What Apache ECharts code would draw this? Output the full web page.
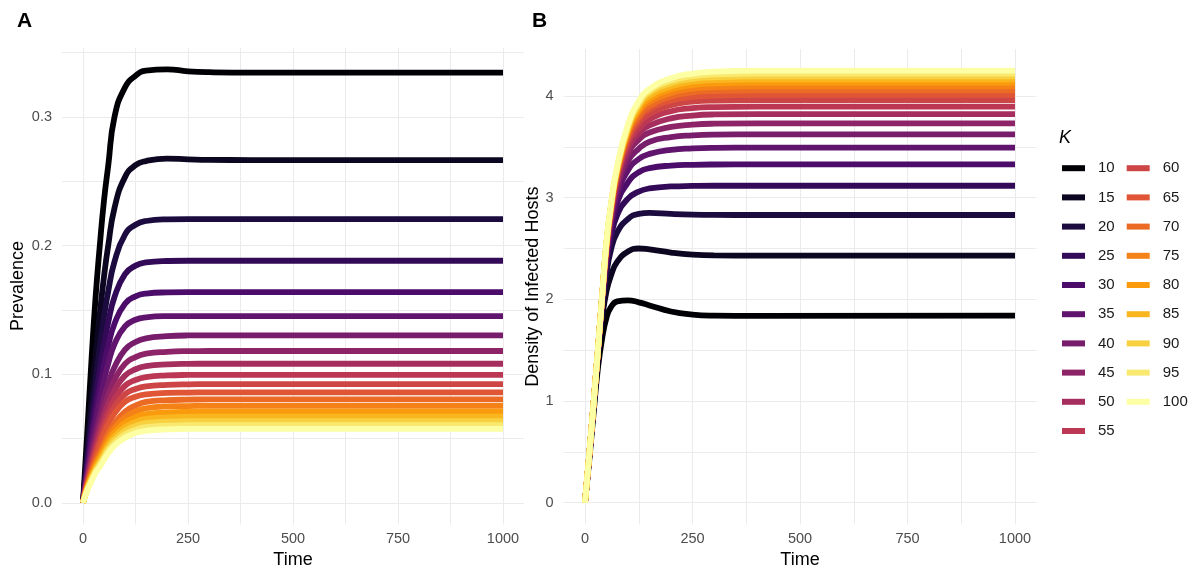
<!DOCTYPE html>
<html>
<head>
<meta charset="utf-8">
<script src="https://cdn.jsdelivr.net/npm/echarts@6/dist/echarts.min.js"></script>
<style>
  html, body { margin: 0; padding: 0; background: #fff; }
  #chart { width: 1198px; height: 569px; }
</style>
</head>
<body>
<div id="chart"></div>
<script>
// time points the curves were read at
const times = [0, 10, 20, 30, 40, 50, 60, 75, 100, 125, 150, 200, 250, 300, 400, 1000];

const kValues = [10, 15, 20, 25, 30, 35, 40, 45, 50, 55, 60, 65, 70, 75, 80, 85, 90, 95, 100];

// inferno palette, one colour per K
const kColors = [
  '#000004', '#0C0621', '#1B0B3E', '#330A58', '#4B0D69', '#61146D', '#781C6C',
  '#8E2468', '#A52E5F', '#BC3754', '#CE4546', '#DF5536', '#EC6B24', '#F58216',
  '#FA9B0D', '#FAB61E', '#F7D13F', '#F9E970', '#FCFFA4'
];

// panel A: prevalence, one row per K
const prevalence = [
  [0, 0.054, 0.11, 0.16, 0.2, 0.235, 0.262, 0.3, 0.323, 0.332, 0.336, 0.337, 0.3355, 0.3348, 0.3344, 0.3344],
  [0, 0.040, 0.080, 0.1146, 0.1466, 0.1759, 0.1999, 0.2292, 0.2532, 0.2625, 0.2657, 0.2676, 0.2670, 0.2666, 0.2665, 0.2665],
  [0, 0.0342, 0.0662, 0.0949, 0.1213, 0.1445, 0.1643, 0.1875, 0.2085, 0.2162, 0.2191, 0.2204, 0.2206, 0.2206, 0.2206, 0.2206],
  [0, 0.0292, 0.0565, 0.0809, 0.1035, 0.1233, 0.1402, 0.16, 0.1778, 0.1844, 0.1869, 0.188, 0.1882, 0.1882, 0.1882, 0.1882],
  [0, 0.0254, 0.0491, 0.0704, 0.0901, 0.1073, 0.122, 0.1392, 0.1548, 0.1605, 0.1627, 0.1636, 0.1638, 0.1638, 0.1638, 0.1638],
  [0, 0.0225, 0.0436, 0.0624, 0.0799, 0.0951, 0.1082, 0.1234, 0.1372, 0.1423, 0.1442, 0.1451, 0.1452, 0.1452, 0.1452, 0.1452],
  [0, 0.0208, 0.0384, 0.054, 0.0684, 0.0814, 0.0924, 0.1055, 0.1191, 0.125, 0.1279, 0.1295, 0.1301, 0.1302, 0.1302, 0.1302],
  [0, 0.0189, 0.0348, 0.049, 0.062, 0.0738, 0.0838, 0.0956, 0.108, 0.1133, 0.1159, 0.1174, 0.1179, 0.118, 0.118, 0.118],
  [0, 0.0173, 0.0319, 0.0449, 0.0568, 0.0676, 0.0768, 0.0876, 0.0989, 0.1038, 0.1062, 0.1076, 0.108, 0.1081, 0.1081, 0.1081],
  [0, 0.0159, 0.0294, 0.0413, 0.0522, 0.0622, 0.0706, 0.0806, 0.091, 0.0955, 0.0977, 0.099, 0.0994, 0.0995, 0.0995, 0.0995],
  [0, 0.0148, 0.0272, 0.0383, 0.0484, 0.0576, 0.0655, 0.0747, 0.0844, 0.0885, 0.0905, 0.0917, 0.0921, 0.0922, 0.0922, 0.0922],
  [0, 0.0137, 0.0253, 0.0356, 0.045, 0.0536, 0.0609, 0.0695, 0.0785, 0.0824, 0.0843, 0.0854, 0.0857, 0.0858, 0.0858, 0.0858],
  [0, 0.0133, 0.0233, 0.0322, 0.0394, 0.0466, 0.0539, 0.0619, 0.0708, 0.0756, 0.0784, 0.0798, 0.0802, 0.0804, 0.0804, 0.0804],
  [0, 0.0124, 0.0219, 0.0302, 0.0369, 0.0437, 0.0505, 0.0581, 0.0664, 0.0709, 0.0735, 0.0749, 0.0752, 0.0754, 0.0754, 0.0754],
  [0, 0.0117, 0.0205, 0.0283, 0.0347, 0.0411, 0.0474, 0.0545, 0.0623, 0.0666, 0.069, 0.0703, 0.0707, 0.0708, 0.0708, 0.0708],
  [0, 0.011, 0.0194, 0.0268, 0.0328, 0.0388, 0.0448, 0.0515, 0.0589, 0.0629, 0.0652, 0.0664, 0.0668, 0.0669, 0.0669, 0.0669],
  [0, 0.0105, 0.0184, 0.0254, 0.0311, 0.0368, 0.0425, 0.0489, 0.0559, 0.0597, 0.0619, 0.0631, 0.0634, 0.0635, 0.0635, 0.0635],
  [0, 0.01, 0.0175, 0.0242, 0.0296, 0.035, 0.0405, 0.0465, 0.0532, 0.0568, 0.0589, 0.06, 0.0603, 0.0604, 0.0604, 0.0604],
  [0, 0.0095, 0.0165, 0.0232, 0.028, 0.0335, 0.0385, 0.0445, 0.0505, 0.0542, 0.056, 0.0571, 0.0574, 0.0575, 0.0575, 0.0575]
];

// panel B: density of infected hosts, one row per K
const density = [
  [0, 0.42, 0.88, 1.32, 1.62, 1.82, 1.92, 1.98, 1.99, 1.97, 1.94, 1.88, 1.85, 1.84, 1.837, 1.839],
  [0, 0.45, 0.93, 1.42, 1.82, 2.08, 2.23, 2.37, 2.47, 2.5, 2.49, 2.46, 2.44, 2.432, 2.43, 2.429],
  [0, 0.46, 0.95, 1.45, 1.9, 2.25, 2.48, 2.66, 2.79, 2.84, 2.85, 2.84, 2.833, 2.83, 2.829, 2.829],
  [0, 0.46, 0.96, 1.46, 1.95, 2.33, 2.6, 2.83, 2.99, 3.06, 3.09, 3.11, 3.115, 3.117, 3.117, 3.117],
  [0, 0.47, 0.97, 1.47, 1.98, 2.4, 2.68, 2.95, 3.15, 3.25, 3.29, 3.315, 3.323, 3.326, 3.327, 3.327],
  [0, 0.47, 0.97, 1.48, 2.0, 2.43, 2.74, 3.03, 3.27, 3.38, 3.43, 3.47, 3.485, 3.49, 3.491, 3.491],
  [0, 0.47, 0.97, 1.48, 2.01, 2.46, 2.78, 3.09, 3.36, 3.48, 3.55, 3.595, 3.613, 3.62, 3.622, 3.622],
  [0, 0.47, 0.97, 1.49, 2.02, 2.48, 2.81, 3.13, 3.43, 3.57, 3.64, 3.695, 3.718, 3.727, 3.73, 3.73],
  [0, 0.47, 0.98, 1.49, 2.02, 2.5, 2.83, 3.17, 3.48, 3.63, 3.71, 3.78, 3.807, 3.818, 3.822, 3.822],
  [0, 0.47, 0.98, 1.49, 2.03, 2.51, 2.85, 3.2, 3.53, 3.68, 3.77, 3.85, 3.88, 3.89, 3.894, 3.894],
  [0, 0.47, 0.98, 1.5, 2.03, 2.52, 2.86, 3.22, 3.56, 3.73, 3.82, 3.91, 3.943, 3.955, 3.96, 3.96],
  [0, 0.47, 0.98, 1.5, 2.03, 2.53, 2.87, 3.24, 3.59, 3.77, 3.87, 3.955, 3.99, 4.003, 4.01, 4.01],
  [0, 0.48, 0.98, 1.5, 2.03, 2.54, 2.88, 3.25, 3.62, 3.8, 3.9, 3.995, 4.035, 4.048, 4.055, 4.055],
  [0, 0.48, 0.98, 1.5, 2.04, 2.54, 2.89, 3.26, 3.64, 3.84, 3.94, 4.03, 4.072, 4.087, 4.095, 4.095],
  [0, 0.48, 0.98, 1.5, 2.04, 2.55, 2.9, 3.27, 3.66, 3.86, 3.97, 4.065, 4.107, 4.122, 4.13, 4.13],
  [0, 0.48, 0.98, 1.5, 2.04, 2.55, 2.9, 3.28, 3.67, 3.89, 4.0, 4.095, 4.14, 4.155, 4.163, 4.163],
  [0, 0.48, 0.98, 1.5, 2.04, 2.56, 2.91, 3.29, 3.69, 3.91, 4.03, 4.125, 4.168, 4.184, 4.193, 4.193],
  [0, 0.48, 0.98, 1.5, 2.04, 2.56, 2.91, 3.3, 3.7, 3.93, 4.05, 4.15, 4.195, 4.212, 4.22, 4.22],
  [0, 0.48, 0.98, 1.5, 2.04, 2.57, 2.92, 3.31, 3.72, 3.95, 4.07, 4.175, 4.22, 4.24, 4.248, 4.248]
];

const timeTicks = [0, 250, 500, 750, 1000];
const timeGrid = [0, 125, 250, 375, 500, 625, 750, 875, 1000];
const prevTicks = [0, 0.1, 0.2, 0.3];
const prevGrid = [0, 0.05, 0.1, 0.15, 0.2, 0.25, 0.3, 0.35];
const densTicks = [0, 1, 2, 3, 4];
const densGrid = [0, 0.5, 1, 1.5, 2, 2.5, 3, 3.5, 4];

const FONT = "'Liberation Sans', Arial, sans-serif";
const gridColor = '#EBEBEB';

function xAxisFor(gridIndex) {
  return {
    gridIndex,
    type: 'value',
    min: -50,
    max: 1050,
    name: 'Time',
    nameLocation: 'middle',
    nameGap: 27,
    nameTextStyle: { fontFamily: FONT, fontSize: 18, color: '#000' },
    axisLine: { show: false },
    axisTick: { show: false, customValues: timeGrid },
    axisLabel: {
      customValues: timeTicks, margin: 7,
      fontFamily: FONT, fontSize: 14.5, color: '#4D4D4D',
      formatter: v => String(v)
    },
    splitLine: { show: true, lineStyle: { color: gridColor, width: 1 } }
  };
}

function yAxisFor(gridIndex, min, max, ticks, grid, name, fmt) {
  return {
    gridIndex,
    type: 'value',
    min,
    max,
    name,
    nameLocation: 'middle',
    nameGap: gridIndex === 0 ? 35 : 21,
    nameTextStyle: { fontFamily: FONT, fontSize: 18, color: '#000' },
    axisLine: { show: false },
    axisTick: { show: false, customValues: grid },
    axisLabel: {
      customValues: ticks, margin: 10,
      fontFamily: FONT, fontSize: 14.5, color: '#4D4D4D',
      formatter: fmt
    },
    splitLine: { show: true, lineStyle: { color: gridColor, width: 1 } }
  };
}

const series = [];
kValues.forEach((k, i) => {
  series.push({
    name: String(k),
    type: 'line',
    xAxisIndex: 0,
    yAxisIndex: 0,
    data: times.map((t, j) => [t, prevalence[i][j]]),
    showSymbol: false,
    smooth: 0.5,
    lineStyle: { width: 5.8, color: kColors[i] },
    itemStyle: { color: kColors[i] }
  });
});
kValues.forEach((k, i) => {
  series.push({
    name: String(k),
    type: 'line',
    xAxisIndex: 1,
    yAxisIndex: 1,
    data: times.map((t, j) => [t, density[i][j]]),
    showSymbol: false,
    smooth: 0.5,
    lineStyle: { width: 5.8, color: kColors[i] },
    itemStyle: { color: kColors[i] }
  });
});

const legendBase = {
  orient: 'vertical',
  icon: 'rect',
  itemWidth: 23,
  itemHeight: 6,
  itemGap: 14.2,
  selectedMode: false,
  padding: 0,
  textStyle: { fontFamily: FONT, fontSize: 15, color: '#1A1A1A', lineHeight: 14, padding: [0, 0, 0, 8] }
};

const chart = echarts.init(document.getElementById('chart'), null, { renderer: 'canvas' });
chart.setOption({
  animation: false,
  backgroundColor: '#fff',
  title: [
    { text: 'A', left: 17, top: 11, padding: 0, textStyle: { fontFamily: FONT, fontSize: 21, fontWeight: 'bold', color: '#000' } },
    { text: 'B', left: 532, top: 11, padding: 0, textStyle: { fontFamily: FONT, fontSize: 21, fontWeight: 'bold', color: '#000' } },
    { text: 'K', left: 1059, top: 129, padding: 0, textStyle: { fontFamily: FONT, fontSize: 18, fontStyle: 'italic', fontWeight: 'normal', color: '#000' } }
  ],
  legend: [
    Object.assign({}, legendBase, { left: 1062, top: 160.7, data: kValues.slice(0, 10).map(String) }),
    Object.assign({}, legendBase, { left: 1126.7, top: 160.7, data: kValues.slice(10).map(String) })
  ],
  grid: [
    { left: 62, top: 47.5, width: 462, height: 477, outerBoundsMode: 'none' },
    { left: 563.5, top: 49, width: 473, height: 475.3, outerBoundsMode: 'none' }
  ],
  xAxis: [xAxisFor(0), xAxisFor(1)],
  yAxis: [
    yAxisFor(0, -0.0169, 0.354, prevTicks, prevGrid, 'Prevalence', v => v.toFixed(1)),
    yAxisFor(1, -0.2124, 4.4616, densTicks, densGrid, 'Density of Infected Hosts', v => String(v))
  ],
  series
});
</script>
</body>
</html>
